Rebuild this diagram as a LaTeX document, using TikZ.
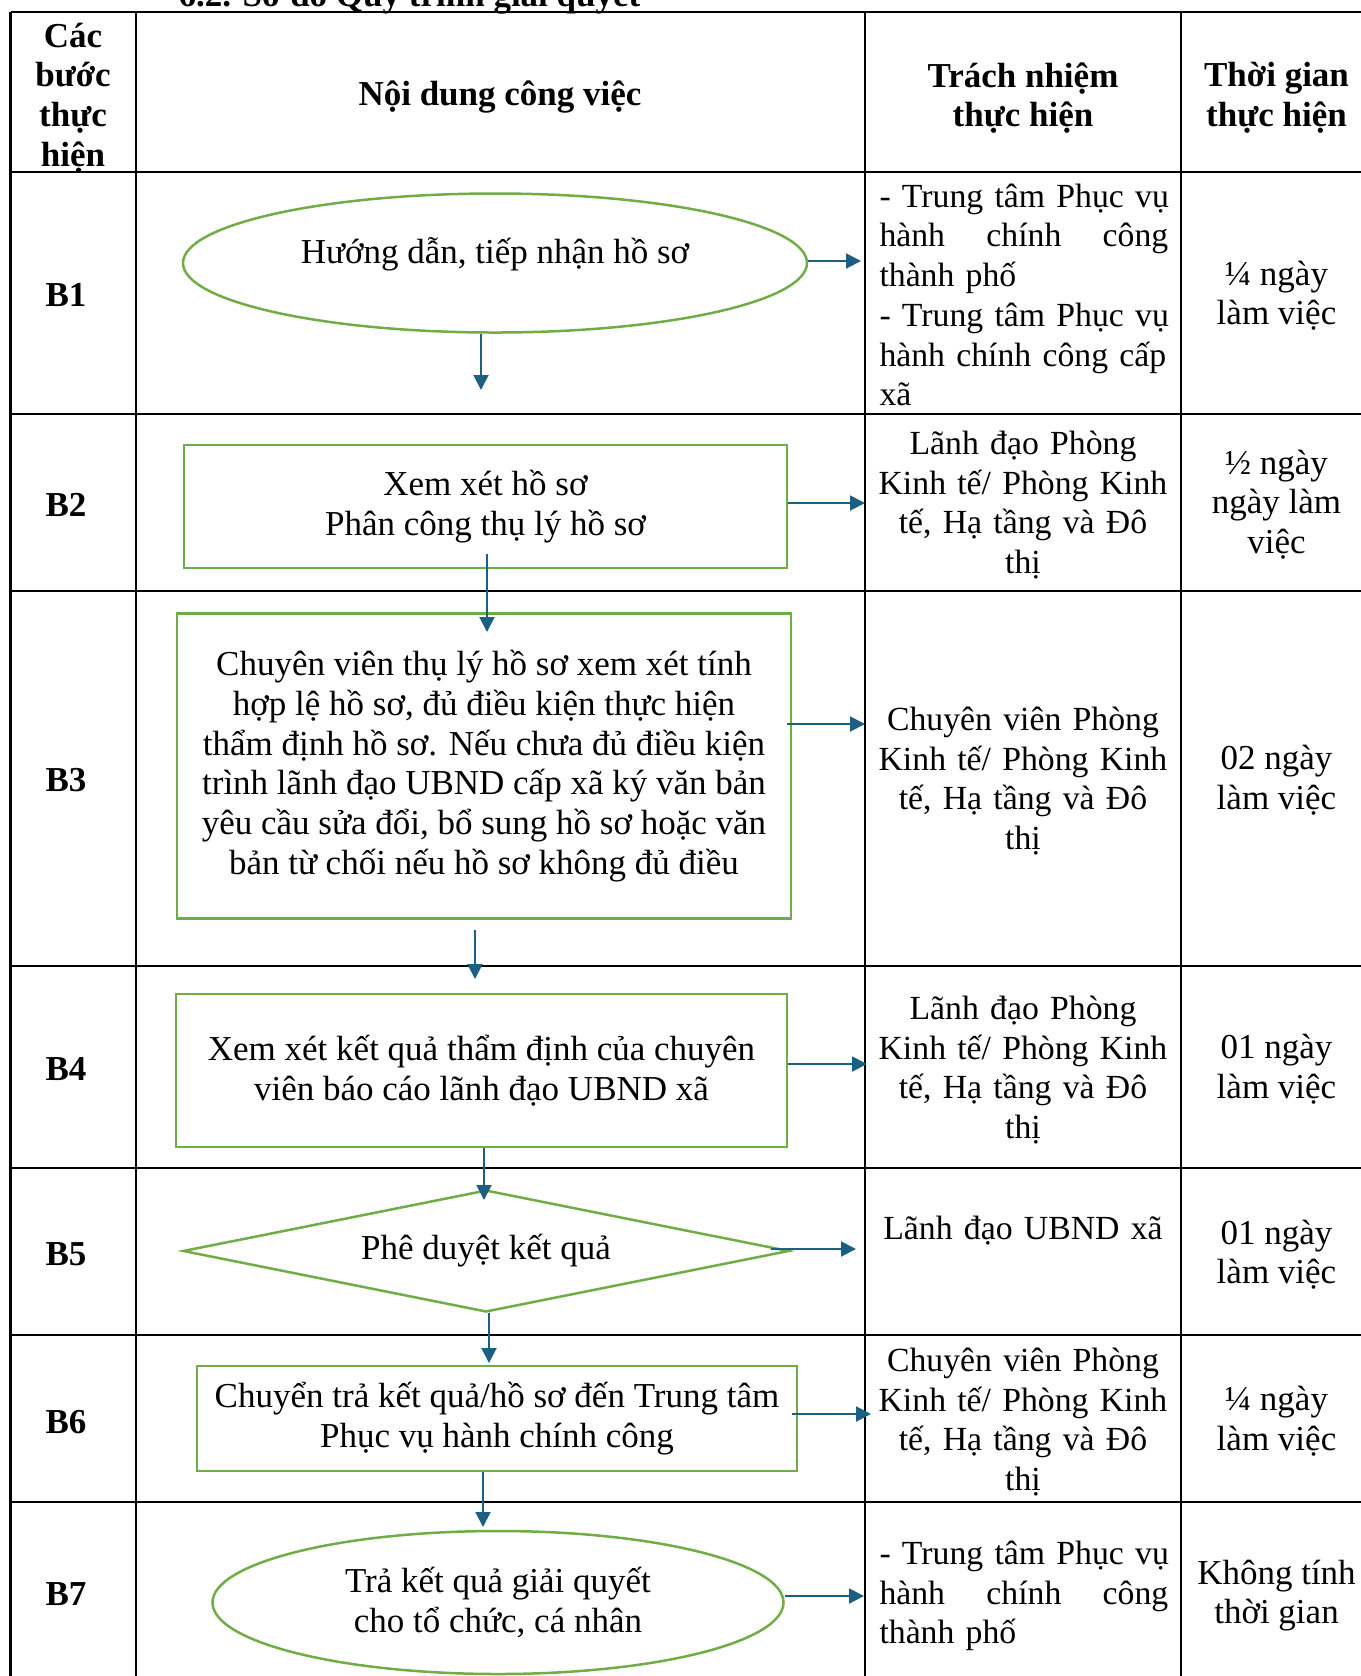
\documentclass[tikz,border=0pt]{standalone}
\usepackage{fontspec}
\setmainfont{Liberation Serif}
\usetikzlibrary{shapes.geometric,arrows.meta}
\definecolor{boxgreen}{HTML}{70AD47}
\definecolor{flowblue}{HTML}{1B5F83}
\tikzset{
  every node/.style={font=\fontsize{14}{15.9}\selectfont},
  grid/.style={line width=1pt},
  head/.style={font=\fontsize{14}{15.9}\selectfont\bfseries, align=center, inner sep=0pt},
  stepbox/.style={draw=boxgreen, line width=1pt, rectangle, align=center, inner sep=0pt},
  endpoint/.style={draw=boxgreen, line width=1pt, ellipse, align=center, inner sep=0pt},
  decision/.style={draw=boxgreen, line width=1pt, diamond, aspect=5, inner sep=0pt},
  flow/.style={draw=flowblue, line width=0.8pt, -{Triangle[width=6pt,length=6pt]}},
  who/.style={font=\fontsize{13.5}{15.9}\selectfont, text width=124pt, align=center, inner sep=0pt},
  wholeft/.style={who, align=left, anchor=west},
  when/.style={align=center, inner sep=0pt},
}
\begin{document}
\begin{tikzpicture}[x=0.4pt,y=-0.4pt]
    \useasboundingbox (0,0) rectangle (1361,1676);
    \clip (0,0) rectangle (1361,1676);

    % Title (cut at the top)
    \node[head, anchor=base west] (title) at (178,6) {6.2. Sơ đồ Quy trình giải quyết};

    % Table grid
    \foreach \y in {12,172,414,591,966,1168,1335,1502}
        \draw[grid] (10.5,\y) -- (1380,\y);
    \foreach \x in {10.5,136,865,1181,1372}
        \draw[grid] (\x,12) -- (\x,1700);

    % Header
    \node[head] (hstep) at (73,98) {Các\\bước\\thực\\hiện};
    \node[head] (hwork) at (500,97) {Nội dung công việc};
    \node[head] (hwho) at (1023,98) {Trách nhiệm\\thực hiện};
    \node[head] (hwhen) at (1276.5,98) {Thời gian\\thực hiện};

    % Step labels
    \node[head] (s1) at (66,295) {B1};
    \node[head] (s2) at (66,504.5) {B2};
    \node[head] (s3) at (66,780) {B3};
    \node[head] (s4) at (66,1069) {B4};
    \node[head] (s5) at (66,1254) {B5};
    \node[head] (s6) at (66,1422) {B6};
    \node[head] (s7) at (66,1594) {B7};

    % Flow shapes
    \node[endpoint, text depth=10pt, minimum width=249.6pt, minimum height=55.6pt] (e1) at (495,263) {Hướng dẫn, tiếp nhận hồ sơ};
    \node[stepbox, minimum width=241.2pt, minimum height=49.2pt] (b2) at (485.5,506.5) {Xem xét hồ sơ\\Phân công thụ lý hồ sơ};
    \node[stepbox, minimum width=245.6pt, minimum height=122pt] (b3) at (484,766) {Chuyên viên thụ lý hồ sơ xem xét tính\\hợp lệ hồ sơ, đủ điều kiện thực hiện\\thẩm định hồ sơ. Nếu chưa đủ điều kiện\\trình lãnh đạo UBND cấp xã ký văn bản\\yêu cầu sửa đổi, bổ sung hồ sơ hoặc văn\\bản từ chối nếu hồ sơ không đủ điều};
    \node[stepbox, minimum width=244.4pt, minimum height=61.2pt] (b4) at (481.5,1070.5) {Xem xét kết quả thẩm định của chuyên\\viên báo cáo lãnh đạo UBND xã};
    \node[decision, minimum width=242.4pt, minimum height=48.8pt] (d5) at (486,1251) {Phê duyệt kết quả};
    \node[stepbox, minimum width=240pt, minimum height=42pt] (b6) at (497,1418.5) {Chuyển trả kết quả/hồ sơ đến Trung tâm\\Phục vụ hành chính công};
    \node[endpoint, minimum width=228.4pt, minimum height=57.2pt] (e7) at (498,1602.5) {Trả kết quả giải quyết\\cho tổ chức, cá nhân};

    % Responsibility column
    \node[wholeft] (w1) at (879,295) {- Trung tâm Phục vụ\\\makebox[115.5pt]{hành\hfill chính\hfill công}\\thành phố\\- Trung tâm Phục vụ\\hành chính công cấp\\xã};
    \node[who] (w2) at (1023,505) {Lãnh đạo Phòng\\Kinh tế/ Phòng Kinh\\tế, Hạ tầng và Đô\\thị};
    \node[who] (w3) at (1023,781) {Chuyên viên Phòng\\Kinh tế/ Phòng Kinh\\tế, Hạ tầng và Đô\\thị};
    \node[who] (w4) at (1023,1070) {Lãnh đạo Phòng\\Kinh tế/ Phòng Kinh\\tế, Hạ tầng và Đô\\thị};
    \node[who] (w5) at (1023,1231) {Lãnh đạo UBND xã};
    \node[who] (w6) at (1023,1422) {Chuyên viên Phòng\\Kinh tế/ Phòng Kinh\\tế, Hạ tầng và Đô\\thị};
    \node[wholeft] (w7) at (879,1596) {- Trung tâm Phục vụ\\\makebox[115.5pt]{hành\hfill chính\hfill công}\\thành phố};

    % Time column
    \node[when] (t1) at (1276.5,295.6) {¼ ngày\\làm việc};
    \node[when] (t2) at (1276.5,504.6) {½ ngày\\ngày làm\\việc};
    \node[when] (t3) at (1276.5,780) {02 ngày\\làm việc};
    \node[when] (t4) at (1276.5,1069) {01 ngày\\làm việc};
    \node[when] (t5) at (1276.5,1254.6) {01 ngày\\làm việc};
    \node[when] (t6) at (1276.5,1421) {¼ ngày\\làm việc};
    \node[when] (t7) at (1276.5,1595.6) {Không tính\\thời gian};

    % Arrow tips
    \coordinate (tip1d) at (481,390);
    \coordinate (tip1r) at (861,261);
    \coordinate (tip2d) at (487,632);
    \coordinate (tip2r) at (865,503);
    \coordinate (tip3d) at (475,979);
    \coordinate (tip3r) at (865,724);
    \coordinate (tip4d) at (484,1200);
    \coordinate (tip4r) at (867,1064);
    \coordinate (tip5d) at (489,1363);
    \coordinate (tip5r) at (856,1249);
    \coordinate (tip6d) at (483,1527);
    \coordinate (tip6r) at (871,1414);
    \coordinate (tip7r) at (864,1596);

    % Arrows
    \draw[flow] (e1.south -| tip1d) -- (tip1d);
    \draw[flow] (e1.east |- tip1r) -- (tip1r);
    \draw[flow, shorten <=-6pt] (b2.south -| tip2d) -- (tip2d);
    \draw[flow] (b2.east |- tip2r) -- (tip2r);
    \draw[flow, shorten <=4pt] (b3.south -| tip3d) -- (tip3d);
    \draw[flow, shorten <=-2pt] (b3.east |- tip3r) -- (tip3r);
    \draw[flow] (b4.south -| tip4d) -- (tip4d);
    \draw[flow] (b4.east |- tip4r) -- (tip4r);
    \draw[flow] (d5.south -| tip5d) -- (tip5d);
    \draw[flow, shorten <=-7.6pt] (d5.east |- tip5r) -- (tip5r);
    \draw[flow] (b6.south -| tip6d) -- (tip6d);
    \draw[flow, shorten <=-2.4pt] (b6.east |- tip6r) -- (tip6r);
    \draw[flow] (e7.east |- tip7r) -- (tip7r);
\end{tikzpicture}
\end{document}
